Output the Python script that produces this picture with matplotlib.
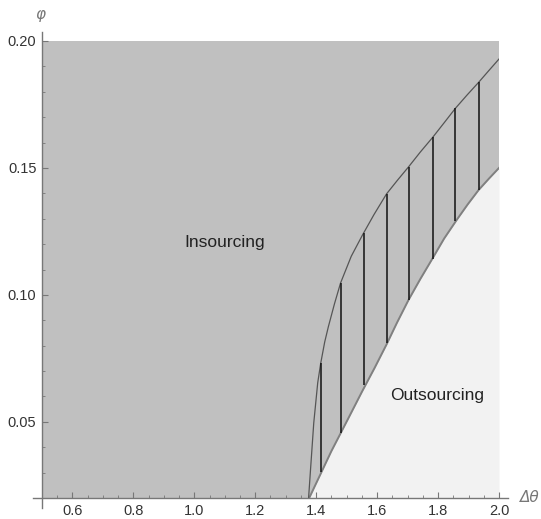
import numpy as np
import matplotlib.pyplot as plt
from matplotlib.ticker import MultipleLocator, FormatStrFormatter

# boundary between insourcing and outsourcing (lower curve)
lower_x = [1.377, 1.45, 1.503, 1.55, 1.592, 1.631, 1.665, 1.703, 1.742, 1.782, 1.82, 1.861, 1.897, 1.933, 1.967, 2.0]
lower_y = [0.020, 0.0385, 0.0508, 0.0618, 0.0713, 0.0805, 0.0890, 0.098, 0.1063, 0.1144, 0.1222, 0.1295, 0.1356, 0.1413, 0.1458, 0.1500]

# upper curve
upper_x = [1.375, 1.382, 1.392, 1.405, 1.415, 1.428, 1.44, 1.46, 1.48, 1.515, 1.552, 1.59, 1.631,
           1.667, 1.703, 1.742, 1.782, 1.82, 1.857, 1.895, 1.933, 1.967, 2.0]
upper_y = [0.020, 0.0323, 0.0496, 0.0654, 0.0732, 0.0815, 0.0875, 0.0965, 0.1047, 0.1152, 0.1236, 0.1317, 0.1398,
           0.1452, 0.1504, 0.1563, 0.1620, 0.1678, 0.1735, 0.1787, 0.1837, 0.1884, 0.1929]

# vertical hatch segments between the curves
hatch_x = [1.415, 1.480, 1.556, 1.631, 1.703, 1.782, 1.857, 1.933]
hatch_top = [0.0732, 0.1047, 0.1245, 0.1398, 0.1504, 0.1620, 0.1735, 0.1837]
hatch_bottom = [0.0303, 0.0457, 0.0646, 0.0811, 0.098, 0.1142, 0.1291, 0.1413]

xticks = [0.6, 0.8, 1.0, 1.2, 1.4, 1.6, 1.8, 2.0]
yticks = [0.05, 0.10, 0.15, 0.20]

plt.rcParams['font.family'] = ['Liberation Sans', 'DejaVu Sans']

fig = plt.figure(figsize=(5.41, 5.19), dpi=100)
ax = fig.add_axes([42 / 541, 21 / 519, 457 / 541, 457 / 519])

ax.set_facecolor('#c0c0c0')
ax.fill_between(lower_x, 0.0, lower_y, color='#f2f2f2', lw=0)
ax.fill_between([lower_x[-1], 2.1], 0.0, 0.3, color='#f2f2f2', lw=0)
ax.plot(lower_x, lower_y, color='#808080', lw=1.4)
ax.plot(upper_x, upper_y, color='#555555', lw=0.9)
ax.vlines(hatch_x, hatch_bottom, hatch_top, color='#111111', lw=1.1)

ax.text(1.10, 0.1205, 'Insourcing', fontsize=12.5, ha='center', va='center', color='#222222')
ax.text(1.798, 0.0602, 'Outsourcing', fontsize=12.5, ha='center', va='center', color='#222222')

ax.set_xlim(0.5, 2.0)
ax.set_ylim(0.02, 0.2)

for s in ['top', 'right']:
    ax.spines[s].set_visible(False)
ax.spines['left'].set_bounds(0.0161, 0.2035)
ax.spines['bottom'].set_bounds(0.4705, 2.0295)
for s in ['left', 'bottom']:
    ax.spines[s].set_color('#777777')
    ax.spines[s].set_linewidth(1.0)

ax.set_xticks(xticks)
ax.set_yticks(yticks)
ax.xaxis.set_major_formatter(FormatStrFormatter('%.1f'))
ax.yaxis.set_major_formatter(FormatStrFormatter('%.2f'))
ax.xaxis.set_minor_locator(MultipleLocator(0.05))
ax.yaxis.set_minor_locator(MultipleLocator(0.01))
ax.tick_params(which='major', direction='in', length=4.5, width=0.8, color='#777777',
               labelsize=10.5, labelcolor='#333333', pad=4)
ax.tick_params(which='minor', direction='in', length=2.5, width=0.6, color='#777777')

fig.text(40 / 541, 1 - 15 / 519, 'φ', fontsize=11, style='italic', color='#777777',
         ha='center', va='center', family='DejaVu Sans')
fig.text(530 / 541, 1 - 497 / 519, 'Δθ', fontsize=11, style='italic', color='#777777',
         ha='center', va='center', family='DejaVu Sans')

plt.savefig('out.png', dpi=100)
